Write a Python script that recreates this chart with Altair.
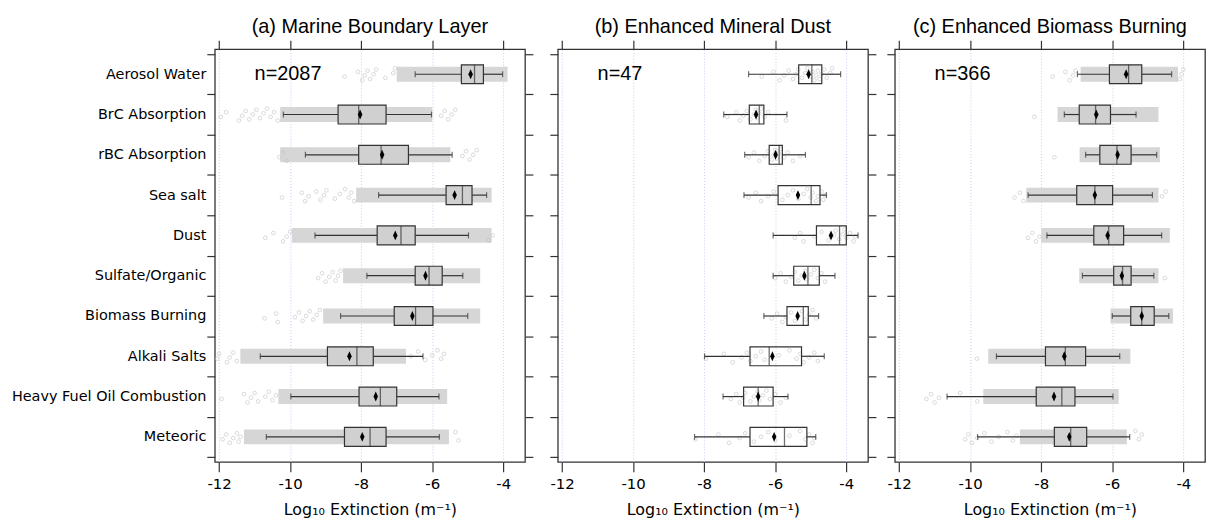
import altair as alt
import pandas as pd

categories = ["Aerosol Water", "BrC Absorption", "rBC Absorption", "Sea salt", "Dust",
              "Sulfate/Organic", "Biomass Burning", "Alkali Salts",
              "Heavy Fuel Oil Combustion", "Meteoric"]
panel_titles = ["(a) Marine Boundary Layer", "(b) Enhanced Mineral Dust", "(c) Enhanced Biomass Burning"]
n_labels = ["n=2087", "n=47", "n=366"]
x_ticks = [-12, -10, -8, -6, -4]
x_title = "Log₁₀ Extinction (m⁻¹)"

# ---------------- panel (a) Marine Boundary Layer ----------------
a_whisker_low = [-6.48, -10.19, -9.57, -7.51, -9.30, -7.84, -8.58, -10.84, -9.98, -10.67]
a_q1 = [-5.18, -8.65, -8.07, -5.61, -7.55, -6.48, -7.07, -8.95, -8.06, -8.47]
a_median = [-4.81, -8.07, -7.44, -5.15, -6.88, -6.09, -6.47, -8.12, -7.46, -7.75]
a_q3 = [-4.56, -7.30, -6.67, -4.88, -6.48, -5.72, -5.98, -7.66, -7.00, -7.30]
a_whisker_high = [-4.02, -6.02, -5.44, -4.47, -4.98, -5.14, -5.00, -6.26, -5.81, -5.80]
a_mean = [-4.92, -8.03, -7.41, -5.37, -7.04, -6.19, -6.56, -8.33, -7.59, -7.97]
a_cloud_low = [-7.00, -10.28, -10.28, -8.14, -9.95, -8.51, -9.07, -11.40, -10.33, -11.30]
a_cloud_high = [-3.88, -6.00, -5.49, -4.33, -4.33, -4.65, -4.65, -6.74, -5.58, -5.53]
a_points = [
    [-8.47, -8.09, -7.97, -7.90, -7.82, -7.75, -7.65, -7.58, -7.32, -7.10, -7.05],
    [-11.95, -11.80, -11.44, -11.35, -11.25, -11.15, -11.05, -10.95, -10.85, -10.75, -10.65,
     -10.55, -10.45, -10.35, -5.75, -5.65, -5.55, -5.45, -5.35],
    [-10.30, -10.20, -10.10, -5.15, -5.05, -4.95, -4.85, -4.75],
    [-10.23, -9.67, -9.58, -9.48, -9.26, -9.15, -9.05, -8.98, -8.74, -8.60, -8.45, -8.35, -8.28, -8.20],
    [-10.70, -10.47, -10.20, -10.10, -10.00, -4.40, -4.30],
    [-9.21, -9.10, -9.00, -8.90, -8.80, -8.72, -8.65, -8.58],
    [-10.72, -10.39, -10.35, -9.86, -9.75, -9.65, -9.55, -9.45, -9.35, -9.25, -9.16],
    [-12.05, -12.00, -11.78, -11.70, -11.60, -11.50, -6.60, -6.40, -6.20, -6.00, -5.85, -5.75, -5.67],
    [-11.93, -11.30, -11.20, -11.10, -11.00, -10.90, -10.70, -10.60, -10.50, -10.40],
    [-11.90, -11.80, -11.70, -11.60, -11.50, -11.45, -11.40, -5.35, -5.26],
]

# ---------------- panel (b) Enhanced Mineral Dust ----------------
b_whisker_low = [-6.75, -7.45, -6.86, -6.88, -6.06, -6.06, -6.32, -7.99, -7.47, -8.27]
b_q1 = [-5.34, -6.73, -6.17, -5.92, -4.84, -5.48, -5.67, -6.71, -6.89, -6.71]
b_median = [-4.97, -6.45, -5.89, -4.99, -4.19, -5.08, -5.21, -6.17, -6.48, -5.74]
b_q3 = [-4.69, -6.32, -5.80, -4.74, -4.00, -4.76, -5.07, -5.26, -6.06, -5.11]
b_whisker_high = [-4.16, -5.67, -5.15, -4.56, -3.67, -4.32, -4.78, -4.62, -5.64, -4.86]
b_mean = [-5.06, -6.54, -5.99, -5.36, -4.43, -5.18, -5.37, -6.08, -6.48, -6.03]
b_points = [
    [-6.38, -6.05, -5.88, -5.75, -5.62, -5.50, -5.42, -5.35, -5.25, -5.15, -5.10, -5.00,
     -4.95, -4.90, -4.85, -4.80, -4.75, -4.70, -4.62, -4.55, -4.45, -4.40],
    [-7.35, -7.10, -7.00, -6.90, -6.80, -6.70, -6.60, -6.55, -6.50, -6.45, -6.40, -6.30, -6.20, -5.70],
    [-6.75, -6.60, -6.45, -6.30, -6.20, -6.10, -6.05, -6.00, -5.95, -5.90, -5.85, -5.75, -5.65, -5.50, -5.30],
    [-6.75, -6.55, -6.40, -6.20, -6.05, -5.80, -5.65, -5.50, -5.35, -5.20, -5.10, -5.00,
     -4.95, -4.85, -4.80, -4.70, -4.65, -4.60],
    [-5.45, -5.30, -5.20, -4.90, -4.70, -4.50, -4.35, -4.30, -4.20, -4.10, -4.05, -4.00, -3.90, -3.80, -3.75],
    [-6.00, -5.85, -5.70, -5.55, -5.45, -5.35, -5.25, -5.15, -5.10, -5.00, -4.90, -4.80, -4.70, -4.60],
    [-6.10, -5.95, -5.80, -5.70, -5.55, -5.45, -5.35, -5.25, -5.15, -5.05, -4.95, -4.85],
    [-7.95, -7.45, -7.20, -6.95, -6.80, -6.70, -6.55, -6.40, -6.30, -5.90, -5.60, -5.40,
     -5.30, -5.20, -5.05, -4.90, -4.80],
    [-7.25, -7.10, -7.00, -6.90, -6.85, -6.70, -6.60, -6.50, -6.45, -6.35, -6.25, -6.15, -6.00, -5.85, -5.70],
    [-8.25, -7.60, -7.30, -7.00, -6.85, -6.60, -6.40, -6.20, -6.00, -5.60, -5.30, -5.15,
     -5.05, -4.95, -4.90],
]

# ---------------- panel (c) Enhanced Biomass Burning ----------------
c_whisker_low = [-6.98, -7.35, -6.75, -8.37, -7.84, -6.84, -6.00, -9.26, -10.65, -9.79]
c_q1 = [-6.08, -6.93, -6.35, -7.00, -6.52, -5.96, -5.48, -7.88, -8.14, -7.63]
c_median = [-5.54, -6.47, -5.87, -6.49, -6.10, -5.71, -5.17, -7.32, -7.42, -7.17]
c_q3 = [-5.17, -6.05, -5.47, -5.99, -5.68, -5.47, -4.82, -6.75, -7.05, -6.72]
c_whisker_high = [-4.33, -5.33, -4.75, -4.87, -4.61, -4.83, -4.41, -5.79, -5.98, -5.51]
c_mean = [-5.61, -6.45, -5.85, -6.49, -6.13, -5.73, -5.17, -7.35, -7.64, -7.21]
c_cloud_low = [-6.89, -7.54, -6.92, -8.42, -8.00, -6.93, -6.05, -9.49, -9.63, -8.60]
c_cloud_high = [-4.15, -4.70, -4.66, -4.70, -4.38, -4.70, -4.29, -5.49, -5.82, -5.59]
c_points = [
    [-7.68, -7.32, -7.20, -7.10, -7.03, -4.10, -4.05, -4.00],
    [-8.19],
    [-7.63],
    [-8.75, -8.60, -8.50, -4.60, -4.50],
    [-8.37, -8.25, -8.15, -8.05],
    [-4.52],
    [],
    [-9.81],
    [-11.23, -11.10, -11.00, -10.88, -10.28, -9.80],
    [-10.14, -10.05, -9.95, -9.80, -9.60, -9.40, -9.20, -8.95, -8.80, -8.70, -5.35, -5.25, -5.17],
]

LABEL_FONT = "DejaVu Sans"
TITLE_FONT = "Liberation Sans"
DARK = "#333333"
X_DOMAIN = [-12.12, -3.39]
PANEL_W = 312
PANEL_H = 415
PAD_OUTER = 0.12
BAND = PANEL_H / (len(categories) + 2 * PAD_OUTER)


def stats_frame(wlo, q1, med, q3, whi, mean):
    return pd.DataFrame({"cat": categories, "wlo": wlo, "q1": q1, "med": med,
                         "q3": q3, "whi": whi, "mean": mean})


def points_frame(pts):
    rows = []
    for c, vals in zip(categories, pts):
        for v in vals:
            rows.append({"cat": c, "v": v})
    return pd.DataFrame(rows, columns=["cat", "v"])


def xscale():
    return alt.Scale(domain=X_DOMAIN, nice=False, zero=False)


def yscale():
    return alt.Scale(type="band", domain=categories, paddingInner=0, paddingOuter=PAD_OUTER)


def panel(idx, stats, pts, cloud_lo=None, cloud_hi=None, box_fill=None, right_ticks=True):
    first = idx == 0
    layers = []

    if cloud_lo is not None:
        cdf = pd.DataFrame({"cat": categories, "lo": cloud_lo, "hi": cloud_hi})
        layers.append(
            alt.Chart(cdf).mark_bar(height=15, color="#d6d6d6").encode(
                x=alt.X("lo:Q", scale=xscale(), axis=None),
                x2="hi:Q",
                y=alt.Y("cat:N", scale=yscale(), sort=categories, axis=None),
            )
        )

    pdf = points_frame(pts)
    layers.append(
        alt.Chart(pdf).transform_window(
            idx="row_number()", groupby=["cat"]
        ).transform_calculate(
            jit="((datum.idx * 7) % 11) / 10 - 0.5"
        ).mark_point(shape="circle", filled=False, size=14, color="#bdbdbd", strokeWidth=0.8).encode(
            x=alt.X("v:Q", scale=xscale(), axis=None),
            y=alt.Y("cat:N", scale=yscale(), sort=categories, axis=None),
            yOffset=alt.YOffset("jit:Q", scale=alt.Scale(domain=[-0.5, 0.5],
                                                         range=[BAND / 2 - 6, BAND / 2 + 6])),
        )
    )

    sdf = stats
    bottom_axis = alt.Axis(
        orient="bottom", values=x_ticks, grid=True, gridColor="#c8c8f4", gridDash=[1, 2],
        gridWidth=1, tickSize=10, domain=False, labelFont=LABEL_FONT, labelFontSize=15,
        labelPadding=5, labelExpr="datum.value + ''", title=x_title, titleFont=LABEL_FONT,
        titleFontSize=16, titleFontWeight="normal", titlePadding=10,
    )
    left_axis = alt.Axis(
        orient="left", tickBand="extent", tickSize=8, domain=False, labels=first,
        labelFont=LABEL_FONT, labelFontSize=14.5, labelPadding=1, labelLimit=400, title=None,
    )
    layers.append(
        alt.Chart(sdf).mark_rule(color=DARK, strokeWidth=1.2).encode(
            x=alt.X("wlo:Q", scale=xscale(), axis=bottom_axis),
            x2="q1:Q",
            y=alt.Y("cat:N", scale=yscale(), sort=categories, axis=left_axis),
        )
    )
    top_axis = alt.Axis(orient="top", values=x_ticks, grid=False, tickSize=9, domain=False,
                        labels=False, title=None)
    right_axis = alt.Axis(orient="right", tickBand="extent", tickSize=8, domain=False,
                          labels=False, title=None) if right_ticks else None
    layers.append(
        alt.Chart(sdf).mark_rule(color=DARK, strokeWidth=1.2).encode(
            x=alt.X("q3:Q", scale=xscale(), axis=top_axis),
            x2="whi:Q",
            y=alt.Y("cat:N", scale=yscale(), sort=categories, axis=right_axis),
        )
    )
    layers.append(
        alt.Chart(sdf).transform_fold(["wlo", "whi"], as_=["k", "val"]).mark_tick(
            color=DARK, thickness=1.2, size=6, orient="vertical"
        ).encode(
            x=alt.X("val:Q", scale=xscale(), axis=None),
            y=alt.Y("cat:N", scale=yscale(), sort=categories, axis=None),
        )
    )
    layers.append(
        alt.Chart(sdf).mark_bar(
            height=19, fill=box_fill if box_fill else "white",
            fillOpacity=1 if box_fill else 0, stroke=DARK, strokeWidth=1.2
        ).encode(
            x=alt.X("q1:Q", scale=xscale(), axis=None),
            x2="q3:Q",
            y=alt.Y("cat:N", scale=yscale(), sort=categories, axis=None),
        )
    )
    layers.append(
        alt.Chart(sdf).mark_tick(color=DARK, thickness=1.3, size=19, orient="vertical").encode(
            x=alt.X("med:Q", scale=xscale(), axis=None),
            y=alt.Y("cat:N", scale=yscale(), sort=categories, axis=None),
        )
    )
    layers.append(
        alt.Chart(sdf).mark_point(
            shape="M0,-1L0.45,0L0,1L-0.45,0Z", filled=True, size=100, color="black", opacity=1
        ).encode(
            x=alt.X("mean:Q", scale=xscale(), axis=None),
            y=alt.Y("cat:N", scale=yscale(), sort=categories, axis=None),
        )
    )
    ndf = pd.DataFrame({"t": [n_labels[idx]], "cat": [categories[0]], "x": [-11.0]})
    layers.append(
        alt.Chart(ndf).mark_text(align="left", baseline="middle", font=TITLE_FONT,
                                 fontSize=20, color="black").encode(
            x=alt.X("x:Q", scale=xscale(), axis=None),
            y=alt.Y("cat:N", scale=yscale(), sort=categories, axis=None),
            text="t:N",
        )
    )

    return alt.layer(*layers).resolve_axis(x="independent", y="independent").properties(
        width=PANEL_W, height=PANEL_H,
        title=alt.TitleParams(panel_titles[idx], font=TITLE_FONT, fontSize=20,
                              fontWeight="normal", anchor="middle", color="black", offset=3),
    )


pa = panel(0, stats_frame(a_whisker_low, a_q1, a_median, a_q3, a_whisker_high, a_mean),
           a_points, a_cloud_low, a_cloud_high, box_fill="#d0d0d0")
pb = panel(1, stats_frame(b_whisker_low, b_q1, b_median, b_q3, b_whisker_high, b_mean),
           b_points)
pc = panel(2, stats_frame(c_whisker_low, c_q1, c_median, c_q3, c_whisker_high, c_mean),
           c_points, c_cloud_low, c_cloud_high, box_fill="#d0d0d0", right_ticks=False)

chart = alt.hconcat(pa, alt.hconcat(pb, pc, spacing=7), spacing=13).properties(
    padding={"left": 2, "top": 6, "right": 0, "bottom": 0}
).configure_view(stroke=DARK, strokeWidth=1.3).configure_axis(
    tickColor=DARK, tickWidth=1.2, labelColor="black", titleColor="black"
)

chart.save("out.html", embed_options={"renderer": "svg", "actions": False})
